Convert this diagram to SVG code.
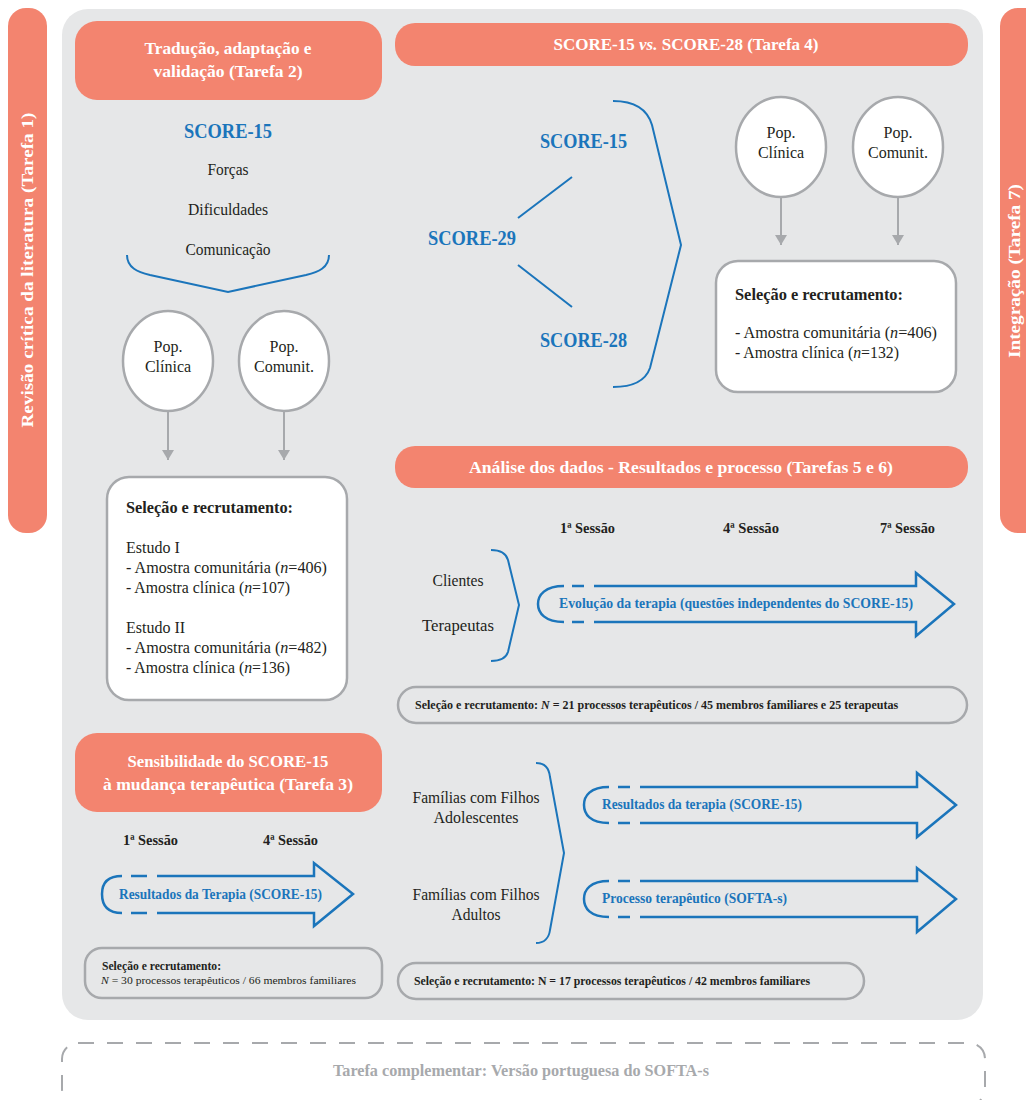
<svg xmlns="http://www.w3.org/2000/svg" width="1026" height="1100" viewBox="0 0 1026 1100">
<defs>
<style>
text{font-family:"Liberation Serif","DejaVu Serif",serif;}
.hd{fill:#F3846F;}
.ht{fill:#FFFFFF;font-weight:bold;font-size:17px;text-anchor:middle;}
.blue{fill:#1B75BB;font-weight:bold;font-size:20px;text-anchor:middle;}
.body{fill:#231F20;font-size:16px;}
.mid{text-anchor:middle;}
.b{font-weight:bold;}
.ses{fill:#231F20;font-weight:bold;font-size:14px;}
.at{fill:#1B75BB;font-weight:bold;font-size:15px;}
.pill{fill:#231F20;font-weight:bold;font-size:12px;}
.ell{fill:#FFFFFF;stroke:#A7A9AC;stroke-width:2.5;}
.box{fill:#FFFFFF;stroke:#A7A9AC;stroke-width:2.5;}
.pb{fill:none;stroke:#A7A9AC;stroke-width:2.5;}
.br{fill:none;stroke:#1B75BB;stroke-width:2;}
.ar{fill:none;stroke:#1B75BB;stroke-width:2.5;stroke-linejoin:miter;}
.gl{stroke:#A7A9AC;stroke-width:2;fill:none;}
</style>
<marker id="gh" viewBox="0 0 10 12" refX="10" refY="6" markerWidth="10" markerHeight="12" markerUnits="userSpaceOnUse" orient="auto">
<path d="M0,0 L10,6 L0,12 z" fill="#A7A9AC"/>
</marker>
</defs>

<!-- side bars -->
<g id="tarefa1">
<rect x="8" y="8" width="39" height="525" rx="18" class="hd"/>
<text class="ht" transform="translate(33,270) rotate(-90)" x="0" y="0" textLength="315" lengthAdjust="spacingAndGlyphs">Revisão crítica da literatura (Tarefa 1)</text>
</g>
<g id="tarefa7">
<rect x="1000" y="8" width="45" height="525" rx="18" class="hd"/>
<text class="ht" transform="translate(1020,271) rotate(-90)" x="0" y="0" textLength="174" lengthAdjust="spacingAndGlyphs">Integração (Tarefa 7)</text>
</g>

<!-- main panel -->
<rect id="panel" x="62" y="9" width="921" height="1011" rx="26" fill="#E6E7E8"/>

<!-- Task 2 -->
<g id="tarefa2">
<rect x="75" y="21" width="307" height="79" rx="22" class="hd"/>
<text class="ht" x="228" y="54" textLength="167" lengthAdjust="spacingAndGlyphs">Tradução, adaptação e</text>
<text class="ht" x="228" y="77" textLength="149" lengthAdjust="spacingAndGlyphs">validação (Tarefa 2)</text>
</g>
<g id="score15-t2">
<text class="blue" x="228" y="138" textLength="88" lengthAdjust="spacingAndGlyphs">SCORE-15</text>
<text class="body mid" x="228" y="175" textLength="41" lengthAdjust="spacingAndGlyphs">Forças</text>
<text class="body mid" x="228" y="215" textLength="80" lengthAdjust="spacingAndGlyphs">Dificuldades</text>
<text class="body mid" x="228" y="255" textLength="85" lengthAdjust="spacingAndGlyphs">Comunicação</text>
</g>
<g id="popclin-t2">
<ellipse cx="168" cy="361" rx="45" ry="50" class="ell"/>
<text class="body mid" x="168" y="352">Pop.</text>
<text class="body mid" x="168" y="372">Clínica</text>
</g>
<g id="popcom-t2">
<ellipse cx="284" cy="361" rx="45" ry="50" class="ell"/>
<text class="body mid" x="284" y="352">Pop.</text>
<text class="body mid" x="284" y="372">Comunit.</text>
</g>
<g id="selecao-t2">
<rect x="107" y="477" width="240" height="223" rx="22" class="box"/>
<text class="body b" x="126" y="513" textLength="167" lengthAdjust="spacingAndGlyphs">Seleção e recrutamento:</text>
<text class="body" x="126" y="553">Estudo I</text>
<text class="body" x="126" y="573" textLength="201" lengthAdjust="spacingAndGlyphs">- Amostra comunitária (<tspan font-style="italic">n</tspan>=406)</text>
<text class="body" x="126" y="593" textLength="164" lengthAdjust="spacingAndGlyphs">- Amostra clínica (<tspan font-style="italic">n</tspan>=107)</text>
<text class="body" x="126" y="633">Estudo II</text>
<text class="body" x="126" y="653" textLength="201" lengthAdjust="spacingAndGlyphs">- Amostra comunitária (<tspan font-style="italic">n</tspan>=482)</text>
<text class="body" x="126" y="673" textLength="164" lengthAdjust="spacingAndGlyphs">- Amostra clínica (<tspan font-style="italic">n</tspan>=136)</text>
</g>

<!-- Task 4 -->
<g id="tarefa4">
<rect x="395" y="23" width="573" height="43" rx="20" class="hd"/>
<text class="ht" x="686" y="50" font-size="16">SCORE-15 <tspan font-style="italic">vs.</tspan> SCORE-28 (Tarefa 4)</text>
</g>
<g id="score15-t4"><text class="blue" x="583.5" y="148" textLength="87" lengthAdjust="spacingAndGlyphs">SCORE-15</text></g>
<g id="score29"><text class="blue" x="472" y="245" textLength="88" lengthAdjust="spacingAndGlyphs">SCORE-29</text></g>
<g id="score28"><text class="blue" x="583.5" y="347" textLength="87" lengthAdjust="spacingAndGlyphs">SCORE-28</text></g>
<g id="popclin-t4">
<ellipse cx="781" cy="147" rx="45" ry="50" class="ell"/>
<text class="body mid" x="781" y="138">Pop.</text>
<text class="body mid" x="781" y="158">Clínica</text>
</g>
<g id="popcom-t4">
<ellipse cx="898" cy="147" rx="45" ry="50" class="ell"/>
<text class="body mid" x="898" y="138">Pop.</text>
<text class="body mid" x="898" y="158">Comunit.</text>
</g>
<g id="selecao-t4">
<rect x="716" y="261" width="240" height="131" rx="22" class="box"/>
<text class="body b" x="735" y="300" textLength="168" lengthAdjust="spacingAndGlyphs">Seleção e recrutamento:</text>
<text class="body" x="735" y="338" textLength="202" lengthAdjust="spacingAndGlyphs">- Amostra comunitária (<tspan font-style="italic">n</tspan>=406)</text>
<text class="body" x="735" y="358" textLength="164" lengthAdjust="spacingAndGlyphs">- Amostra clínica (<tspan font-style="italic">n</tspan>=132)</text>
</g>

<!-- Task 5/6 -->
<g id="tarefa56">
<rect x="395" y="446" width="573" height="42" rx="20" class="hd"/>
<text class="ht" x="681" y="473" textLength="424" lengthAdjust="spacingAndGlyphs">Análise dos dados - Resultados e processo (Tarefas 5 e 6)</text>
</g>
<g id="sessoes-t56">
<text class="ses" x="560" y="533" textLength="55" lengthAdjust="spacingAndGlyphs">1ª Sessão</text>
<text class="ses" x="723" y="533" textLength="56" lengthAdjust="spacingAndGlyphs">4ª Sessão</text>
<text class="ses" x="880" y="533" textLength="55" lengthAdjust="spacingAndGlyphs">7ª Sessão</text>
</g>
<g id="clientes-terapeutas">
<text class="body mid" x="458" y="586" textLength="51" lengthAdjust="spacingAndGlyphs">Clientes</text>
<text class="body mid" x="458" y="631" textLength="72" lengthAdjust="spacingAndGlyphs">Terapeutas</text>
</g>
<g id="evolucao">
<path class="ar" d="M594,586 H916 V573 L954,604 L916,636 V622 H594"/>
<path class="ar" d="M572,586 H584 M572,622 H584"/>
<path class="ar" d="M564,586 C545,586 538,595 538,604 C538,613 545,622 564,622"/>
<text class="at" x="559" y="608" textLength="354" lengthAdjust="spacingAndGlyphs">Evolução da terapia (questões independentes do SCORE-15)</text>
</g>
<g id="selecao-t56">
<rect x="398" y="687" width="569" height="36" rx="18" class="pb"/>
<text class="pill" x="415" y="709" font-size="11">Seleção e recrutamento: <tspan font-style="italic">N</tspan> = 21 processos terapêuticos / 45 membros familiares e 25 terapeutas</text>
</g>

<!-- Task 3 -->
<g id="tarefa3">
<rect x="75" y="733" width="307" height="79" rx="22" class="hd"/>
<text class="ht" x="228" y="767" textLength="201" lengthAdjust="spacingAndGlyphs">Sensibilidade do SCORE-15</text>
<text class="ht" x="228" y="790" textLength="250" lengthAdjust="spacingAndGlyphs">à mudança terapêutica (Tarefa 3)</text>
</g>
<g id="sessoes-t3">
<text class="ses" x="123" y="845" textLength="55" lengthAdjust="spacingAndGlyphs">1ª Sessão</text>
<text class="ses" x="263" y="845" textLength="55" lengthAdjust="spacingAndGlyphs">4ª Sessão</text>
</g>
<g id="resultados-t3">
<path class="ar" d="M157,876 H314 V863 L353,894 L314,926 V913 H157"/>
<path class="ar" d="M131,876 H147 M131,913 H147"/>
<path class="ar" d="M122,876 C106,876 102,885 102,894 C102,904 106,913 122,913"/>
<text class="at" x="119" y="899" textLength="203" lengthAdjust="spacingAndGlyphs">Resultados da Terapia (SCORE-15)</text>
</g>
<g id="selecao-t3">
<rect x="85" y="948" width="297" height="50" rx="17" class="pb"/>
<text class="pill" x="102" y="970" font-size="11" textLength="119" lengthAdjust="spacingAndGlyphs">Seleção e recrutamento:</text>
<text x="101" y="984" font-size="11" fill="#231F20" textLength="255" lengthAdjust="spacingAndGlyphs"><tspan font-style="italic">N</tspan> = 30 processos terapêuticos / 66 membros familiares</text>
</g>

<!-- Families -->
<g id="familias">
<text class="body mid" x="476" y="803" textLength="127" lengthAdjust="spacingAndGlyphs">Famílias com Filhos</text>
<text class="body mid" x="476" y="823" textLength="85" lengthAdjust="spacingAndGlyphs">Adolescentes</text>
<text class="body mid" x="476" y="900" textLength="127" lengthAdjust="spacingAndGlyphs">Famílias com Filhos</text>
<text class="body mid" x="476" y="920" textLength="49" lengthAdjust="spacingAndGlyphs">Adultos</text>
</g>
<g id="resultados-t56">
<path class="ar" d="M640,787 H917 V773 L956,805 L917,837 V823 H640"/>
<path class="ar" d="M618,787 H630 M618,823 H630"/>
<path class="ar" d="M609,787 C590,787 584,796 584,805 C584,814 590,823 609,823"/>
<text class="at" x="602" y="809" textLength="200" lengthAdjust="spacingAndGlyphs">Resultados da terapia (SCORE-15)</text>
</g>
<g id="processo-t56">
<path class="ar" d="M640,881 H917 V868 L956,899 L917,932 V917 H640"/>
<path class="ar" d="M618,881 H630 M618,917 H630"/>
<path class="ar" d="M609,881 C590,881 584,890 584,899 C584,908 590,917 609,917"/>
<text class="at" x="602" y="903" textLength="185" lengthAdjust="spacingAndGlyphs">Processo terapêutico (SOFTA-s)</text>
</g>
<g id="selecao-familias">
<rect x="398" y="963" width="466" height="36" rx="18" class="pb"/>
<text class="pill" x="414" y="985" textLength="396" lengthAdjust="spacingAndGlyphs">Seleção e recrutamento: N = 17 processos terapêuticos / 42 membros familiares</text>
</g>

<!-- complementary -->
<g id="complementar">
<rect x="62" y="1043" width="923" height="62" rx="16" fill="none" stroke="#A7A9AC" stroke-width="2" stroke-dasharray="16 13"/>
<text x="521" y="1076" font-size="17" font-weight="bold" fill="#A7A9AC" text-anchor="middle" textLength="376" lengthAdjust="spacingAndGlyphs">Tarefa complementar: Versão portuguesa do SOFTA-s</text>
</g>

<!-- connectors -->
<g id="connectors">
<path class="br" d="M127,255 C127,268 138,272 150,275 L228,292 L306,275 C318,272 329,268 329,255"/>
<line class="gl" x1="168" y1="412" x2="168" y2="460" marker-end="url(#gh)"/>
<line class="gl" x1="284" y1="412" x2="284" y2="460" marker-end="url(#gh)"/>
<path class="br" d="M518,218 L572,177 M518,265 L572,307"/>
<path class="br" d="M613,101 C632,101 647,108 652,125 L681,245 L650,368 C645,382 630,387 613,387"/>
<line class="gl" x1="781" y1="198" x2="781" y2="245" marker-end="url(#gh)"/>
<line class="gl" x1="898" y1="198" x2="898" y2="245" marker-end="url(#gh)"/>
<path class="br" d="M491,550 C500,550 506,553 508,560 L519,605 L508,652 C506,658 500,661 491,661"/>
<path class="br" d="M536,763 C544,763 549,767 550,777 L564,853 L550,930 C549,938 544,943 536,943"/>
</g>
</svg>
